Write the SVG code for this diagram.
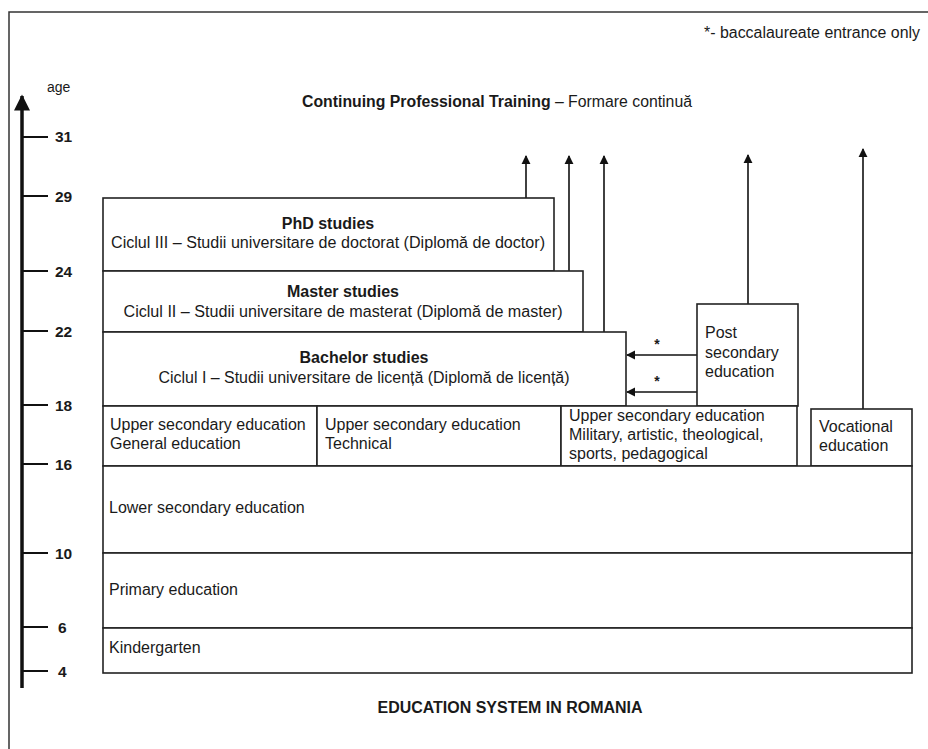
<svg xmlns="http://www.w3.org/2000/svg" width="928" height="749" viewBox="0 0 928 749">
<defs>
<style>
text{font-family:"Liberation Sans",Arial,sans-serif;fill:#1a1a1a}
.t{font-size:16px}
.b{font-size:16px;font-weight:bold}
.tk{font-size:15.5px;font-weight:bold}
.box{fill:#fff;stroke:#222;stroke-width:1.6}
.tick{stroke:#111;stroke-width:2}
.con{stroke:#111;stroke-width:1.6;fill:none}
</style>
<marker id="ah" viewBox="0 0 10 10" refX="9" refY="5" markerWidth="9" markerHeight="11" markerUnits="userSpaceOnUse" orient="auto">
<path d="M0,0 L10,5 L0,10 z" fill="#111"/>
</marker>
<marker id="axh" viewBox="0 0 10 10" refX="9" refY="5" markerWidth="24" markerHeight="16" markerUnits="userSpaceOnUse" orient="auto">
<path d="M0,0 L10,5 L0,10 z" fill="#111"/>
</marker>
</defs>
<rect width="928" height="749" fill="#fff"/>
<path d="M9,749 V12 H928" fill="none" stroke="#333" stroke-width="1.5"/>
<text x="704" y="38" class="t" textLength="216" lengthAdjust="spacingAndGlyphs">*- baccalaureate entrance only</text>
<g id="axis">
<line x1="22" y1="688" x2="22" y2="96" stroke="#111" stroke-width="3.5" marker-end="url(#axh)"/>
<text x="47" y="92" class="t" style="font-size:14px">age</text>
<line class="tick" x1="22" y1="137" x2="48" y2="137"/><text x="55" y="142" class="tk">31</text>
<line class="tick" x1="22" y1="196" x2="48" y2="196"/><text x="55" y="202" class="tk">29</text>
<line class="tick" x1="22" y1="271" x2="48" y2="271"/><text x="55" y="277" class="tk">24</text>
<line class="tick" x1="22" y1="331" x2="48" y2="331"/><text x="55" y="337" class="tk">22</text>
<line class="tick" x1="22" y1="405" x2="48" y2="405"/><text x="55" y="411" class="tk">18</text>
<line class="tick" x1="22" y1="464" x2="48" y2="464"/><text x="55" y="470" class="tk">16</text>
<line class="tick" x1="22" y1="553" x2="48" y2="553"/><text x="55" y="559" class="tk">10</text>
<line class="tick" x1="22" y1="627" x2="48" y2="627"/><text x="58" y="633" class="tk">6</text>
<line class="tick" x1="22" y1="671" x2="48" y2="671"/><text x="58" y="677" class="tk">4</text>
</g>
<g id="cpt">
<text x="302" y="107" style="font-size:16px" textLength="390" lengthAdjust="spacingAndGlyphs"><tspan font-weight="bold">Continuing Professional Training</tspan> – Formare continuă</text>
</g>
<g id="connectors">
<line class="con" x1="526" y1="198" x2="526" y2="156" marker-end="url(#ah)"/>
<line class="con" x1="569" y1="271" x2="569" y2="156" marker-end="url(#ah)"/>
<line class="con" x1="604" y1="332" x2="604" y2="156" marker-end="url(#ah)"/>
<line class="con" x1="748" y1="304" x2="748" y2="155" marker-end="url(#ah)"/>
<line class="con" x1="863" y1="409" x2="863" y2="149" marker-end="url(#ah)"/>
<line class="con" x1="697" y1="355" x2="627" y2="355" marker-end="url(#ah)"/>
<line class="con" x1="697" y1="392" x2="627" y2="392" marker-end="url(#ah)"/>
<text x="657" y="349" text-anchor="middle" style="font-size:14px;font-weight:bold">*</text>
<text x="657" y="386" text-anchor="middle" style="font-size:14px;font-weight:bold">*</text>
</g>
<g id="phd">
<rect class="box" x="103" y="198" width="451" height="73"/>
<text x="328" y="229" text-anchor="middle" class="b">PhD studies</text>
<text x="328" y="248" text-anchor="middle" class="t" textLength="434" lengthAdjust="spacingAndGlyphs">Ciclul III  – Studii universitare de doctorat (Diplomă de doctor)</text>
</g>
<g id="master">
<rect class="box" x="103" y="271" width="480" height="61"/>
<text x="343" y="297" text-anchor="middle" class="b">Master studies</text>
<text x="343" y="317" text-anchor="middle" class="t" textLength="439" lengthAdjust="spacingAndGlyphs">Ciclul II  – Studii universitare de masterat (Diplomă de master)</text>
</g>
<g id="bachelor">
<rect class="box" x="103" y="332" width="523" height="74"/>
<text x="364" y="363" text-anchor="middle" class="b">Bachelor studies</text>
<text x="364" y="383" text-anchor="middle" class="t" textLength="411" lengthAdjust="spacingAndGlyphs">Ciclul I – Studii universitare de licență (Diplomă de licență)</text>
</g>
<g id="postsecondary">
<rect class="box" x="697" y="304" width="101" height="102"/>
<text x="705" y="338" class="t">Post</text>
<text x="705" y="358" class="t">secondary</text>
<text x="705" y="377" class="t">education</text>
</g>
<g id="upper-general">
<rect class="box" x="103" y="406" width="214" height="60"/>
<text x="110" y="430" class="t">Upper secondary education</text>
<text x="110" y="449" class="t">General education</text>
</g>
<g id="upper-technical">
<rect class="box" x="317" y="406" width="244" height="60"/>
<text x="325" y="430" class="t">Upper secondary education</text>
<text x="325" y="449" class="t">Technical</text>
</g>
<g id="upper-military">
<rect class="box" x="561" y="406" width="236" height="60"/>
<text x="569" y="421" class="t">Upper secondary education</text>
<text x="569" y="440" class="t">Military, artistic, theological,</text>
<text x="569" y="459" class="t">sports, pedagogical</text>
</g>
<g id="vocational">
<rect class="box" x="811" y="409" width="101" height="57"/>
<text x="819" y="432" class="t">Vocational</text>
<text x="819" y="451" class="t">education</text>
</g>
<g id="lower-secondary">
<rect class="box" x="103" y="466" width="809" height="87"/>
<text x="109" y="513" class="t">Lower secondary education</text>
</g>
<g id="primary">
<rect class="box" x="103" y="553" width="809" height="75"/>
<text x="109" y="595" class="t">Primary education</text>
</g>
<g id="kindergarten">
<rect class="box" x="103" y="628" width="809" height="45"/>
<text x="109" y="653" class="t">Kindergarten</text>
</g>
<text x="510" y="713" text-anchor="middle" style="font-size:16px;font-weight:bold" textLength="265" lengthAdjust="spacingAndGlyphs">EDUCATION SYSTEM IN ROMANIA</text>
</svg>
